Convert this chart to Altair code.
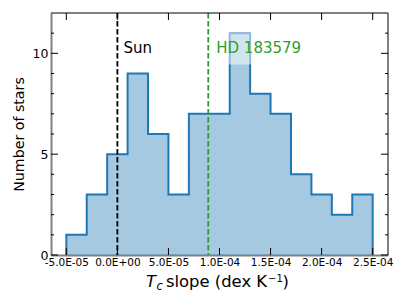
import json
import altair as alt
import pandas as pd

# ---- data ----
bin_edges = [-5e-5, -3e-5, -1e-5, 1e-5, 3e-5, 5e-5, 7e-5, 9e-5, 1.1e-4,
             1.3e-4, 1.5e-4, 1.7e-4, 1.9e-4, 2.1e-4, 2.3e-4, 2.5e-4]
counts = [1, 3, 5, 9, 6, 3, 7, 7, 11, 8, 7, 4, 3, 2, 3]
x_tick_values = [-5e-5, 0.0, 5e-5, 1e-4, 1.5e-4, 2e-4, 2.5e-4]
x_tick_labels = ["-5.0E-05", "0.0E+00", "5.0E-05", "1.0E-04", "1.5E-04", "2.0E-04", "2.5E-04"]
y_major = [0, 5, 10]
y_minor = [1, 2, 3, 4, 6, 7, 8, 9, 11]
sun_slope = 0.0
hd_slope = 8.9e-5
label_level = 10
x_domain = [-6.5e-5, 2.65e-4]
y_domain = [0, 12]

BLUE = "#1f77b4"
GREEN = "#2ca02c"
FONT = "DejaVu Sans"
W, H = 337, 242

xs = alt.Scale(domain=x_domain, nice=False, zero=False)
ys = alt.Scale(domain=y_domain, nice=False, zero=False)

label_expr = (json.dumps(x_tick_labels) +
              "[round((datum.value - (%g)) / 5e-5)]" % x_tick_values[0])

x_axis = alt.Axis(
    values=x_tick_values, labelExpr=label_expr, ticks=False, grid=False,
    domainColor="#808080", domainWidth=2, labelFontSize=10.5, labelPadding=2,
    labelColor="black", labelFlush=False, title=None)
y_axis = alt.Axis(
    values=y_major, ticks=False, grid=False, domainColor="#808080", domainWidth=2,
    labelFontSize=12.5, labelPadding=3, labelColor="black",
    title="Number of stars", titleFontSize=14.2, titleFontWeight="normal",
    titleX=-32, titleY=H / 2, titleAngle=270, titleBaseline="middle",
    titleAlign="center", titleColor="black")


def X(field):
    return alt.X(field, scale=xs, axis=x_axis)


def Y(field):
    return alt.Y(field, scale=ys, axis=y_axis)


area_df = pd.DataFrame({"x": bin_edges, "y": counts + [counts[-1]]})
pts = [(bin_edges[0], 0)]
for i, c in enumerate(counts):
    pts.append((bin_edges[i], c))
    pts.append((bin_edges[i + 1], c))
pts.append((bin_edges[-1], 0))
outline_df = pd.DataFrame({"x": [p[0] for p in pts], "y": [p[1] for p in pts],
                           "o": list(range(len(pts)))})

area = alt.Chart(area_df).mark_area(
    interpolate="step-after", color=BLUE, opacity=0.4
).encode(x=X("x:Q"), y=Y("y:Q"))

outline = alt.Chart(outline_df).mark_line(color=BLUE, strokeWidth=2, strokeJoin="miter").encode(
    x=X("x:Q"), y=Y("y:Q"), order="o:Q")

bbox = alt.Chart(pd.DataFrame({"a": [0]})).mark_rect(color="white", opacity=0.5).encode(
    x=alt.datum(hd_slope + 0.45e-5, scale=xs, axis=x_axis),
    x2=alt.datum(1.88e-4),
    y=alt.datum(9.45, scale=ys, axis=y_axis),
    y2=alt.datum(11.05),
)

lines_df = pd.DataFrame({"x": [sun_slope, hd_slope], "c": ["sun", "hd"]})
vlines = alt.Chart(lines_df).mark_rule(strokeWidth=1.8, strokeDash=[5.5, 2.5]).encode(
    x=X("x:Q"),
    color=alt.Color("c:N", scale=alt.Scale(domain=["sun", "hd"], range=["black", GREEN]), legend=None),
)

sun_txt = alt.Chart(pd.DataFrame({"t": ["Sun"]})).mark_text(
    align="left", baseline="alphabetic", fontSize=15, font=FONT, color="black", dx=6
).encode(x=alt.datum(sun_slope, scale=xs, axis=x_axis),
         y=alt.datum(label_level, scale=ys, axis=y_axis), text="t:N")

hd_txt = alt.Chart(pd.DataFrame({"t": ["HD 183579"]})).mark_text(
    align="left", baseline="alphabetic", fontSize=15, font=FONT, color=GREEN, dx=8
).encode(x=alt.datum(hd_slope, scale=xs, axis=x_axis),
         y=alt.datum(label_level, scale=ys, axis=y_axis), text="t:N")

xt = pd.DataFrame({"v": x_tick_values})
ymaj = pd.DataFrame({"v": y_major})
ymin = pd.DataFrame({"v": y_minor})
tick_style = dict(color="black", strokeWidth=1)
bottom_ticks = alt.Chart(xt).mark_rule(**tick_style).encode(
    x=X("v:Q"), y=alt.value(H), y2=alt.value(H - 7))
top_ticks = alt.Chart(xt).mark_rule(**tick_style).encode(
    x=X("v:Q"), y=alt.value(0), y2=alt.value(7))
left_major = alt.Chart(ymaj).mark_rule(**tick_style).encode(
    y=Y("v:Q"), x=alt.value(0), x2=alt.value(7))
right_major = alt.Chart(ymaj).mark_rule(**tick_style).encode(
    y=Y("v:Q"), x=alt.value(W), x2=alt.value(W - 7))
left_minor = alt.Chart(ymin).mark_rule(**tick_style).encode(
    y=Y("v:Q"), x=alt.value(0), x2=alt.value(3))
right_minor = alt.Chart(ymin).mark_rule(**tick_style).encode(
    y=Y("v:Q"), x=alt.value(W), x2=alt.value(W - 3))

spine_top = alt.Chart(pd.DataFrame({"a": [0]})).mark_rule(color="black", strokeWidth=1).encode(
    x=alt.value(0), x2=alt.value(W), y=alt.value(0))
spine_right = alt.Chart(pd.DataFrame({"a": [0]})).mark_rule(color="black", strokeWidth=1).encode(
    x=alt.value(W), y=alt.value(0), y2=alt.value(H))

# x-axis title drawn piecewise: T_c slope (dex K^-1)
TY = 273.7


def piece(text, x, y, size, italic=False):
    kw = dict(align="left", baseline="alphabetic", fontSize=size, font=FONT, color="black")
    if italic:
        kw["fontStyle"] = "italic"
    return alt.Chart(pd.DataFrame({"t": [text]})).mark_text(**kw).encode(
        x=alt.value(x), y=alt.value(y), text="t:N")


title_parts = [
    piece("T", 95.0, TY, 16.4, italic=True),
    piece("c", 105.5, TY + 3.2, 11.4, italic=True),
    piece("slope (dex K", 115.0, TY, 16.4),
    piece("\u22121", 217.0, TY - 4.3, 10),
    piece(")", 231.5, TY, 16.4),
]

chart = alt.layer(
    area, outline, bbox, vlines, sun_txt, hd_txt,
    bottom_ticks, top_ticks, left_major, right_major, left_minor, right_minor,
    spine_top, spine_right, *title_parts
).properties(
    width=W, height=H, autosize="none",
    padding={"left": 43, "top": 5, "right": 10, "bottom": 40},
).configure_view(stroke=None).configure_axis(labelFont=FONT, titleFont=FONT)

chart.save("out.html", embed_options={"renderer": "svg", "actions": False})
